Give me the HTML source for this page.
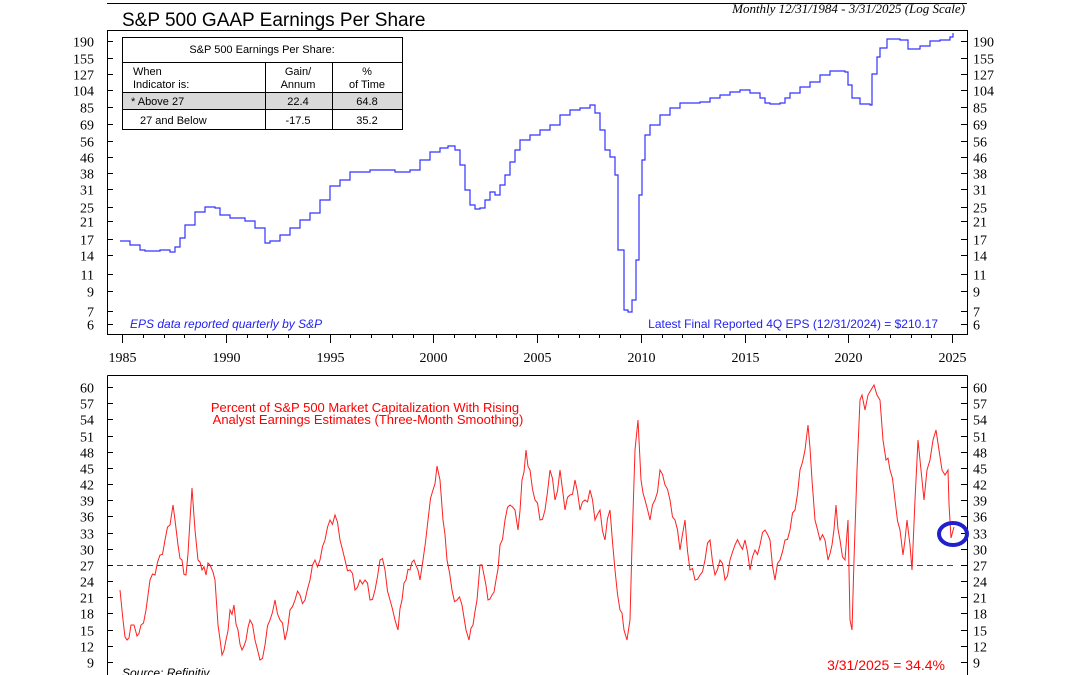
<!DOCTYPE html>
<html><head><meta charset="utf-8"><style>
html,body{margin:0;padding:0;background:#fff;}
svg{display:block;}
.ax{font-family:"Liberation Serif",serif;font-size:14px;fill:#000;}
.s{font-family:"Liberation Sans",sans-serif;}
</style></head><body>
<svg id="c" width="1080" height="675" xmlns="http://www.w3.org/2000/svg">
<rect width="1080" height="675" fill="#fff"/>
<line x1="107" y1="3.5" x2="967" y2="3.5" stroke="#000" stroke-width="1"/>
<rect x="107.5" y="30.5" width="860" height="304" fill="none" stroke="#000"/>
<line x1="107.5" y1="375.5" x2="967.5" y2="375.5" stroke="#000"/>
<line x1="107.5" y1="375.5" x2="107.5" y2="675" stroke="#000"/>
<line x1="967.5" y1="375.5" x2="967.5" y2="675" stroke="#000"/>
<text x="122" y="26" class="s" font-size="19">S&amp;P 500 GAAP Earnings Per Share</text>
<text x="965" y="13" text-anchor="end" font-family="Liberation Serif,serif" font-style="italic" font-size="13">Monthly 12/31/1984 - 3/31/2025 (Log Scale)</text>
<g class="s" font-size="11">
<rect x="122.5" y="37.5" width="280" height="92" fill="#fff" stroke="#000"/>
<rect x="123" y="92" width="279" height="17" fill="#d9d9d9"/>
<line x1="122" y1="62.5" x2="402" y2="62.5" stroke="#000"/>
<line x1="122" y1="92.5" x2="402" y2="92.5" stroke="#000"/>
<line x1="122" y1="109.5" x2="402" y2="109.5" stroke="#000"/>
<line x1="265.5" y1="62" x2="265.5" y2="129" stroke="#000"/>
<line x1="332.5" y1="62" x2="332.5" y2="129" stroke="#000"/>
<text x="262" y="53" text-anchor="middle">S&amp;P 500 Earnings Per Share:</text>
<text x="133" y="75">When</text><text x="133" y="88">Indicator is:</text>
<text x="298" y="75" text-anchor="middle">Gain/</text><text x="298" y="88" text-anchor="middle">Annum</text>
<text x="367" y="75" text-anchor="middle">%</text><text x="367" y="88" text-anchor="middle">of Time</text>
<text x="131" y="105">* Above 27</text><text x="298" y="105" text-anchor="middle">22.4</text><text x="367" y="105" text-anchor="middle">64.8</text>
<text x="140" y="124">27 and Below</text><text x="298" y="124" text-anchor="middle">-17.5</text><text x="367" y="124" text-anchor="middle">35.2</text>
</g>
<text x="130" y="328" class="s" font-size="12" font-style="italic" fill="#2222ee">EPS data reported quarterly by S&amp;P</text>
<text x="938" y="328" class="s" font-size="12" fill="#2222ee" text-anchor="end">Latest Final Reported 4Q EPS (12/31/2024) = $210.17</text>
<text x="365" y="412" class="s" font-size="13" fill="#f00" text-anchor="middle">Percent of S&amp;P 500 Market Capitalization With Rising</text>
<text x="368" y="424" class="s" font-size="13" fill="#f00" text-anchor="middle">Analyst Earnings Estimates (Three-Month Smoothing)</text>
<text x="122" y="677" class="s" font-size="12" font-style="italic">Source: Refinitiv</text>
<text x="945" y="670" class="s" font-size="14" fill="#f00" text-anchor="end">3/31/2025 = 34.4%</text>
<line x1="107" y1="565.5" x2="953" y2="565.5" stroke="#444" stroke-dasharray="6,4"/>
<g id="g"></g>
<ellipse cx="953" cy="534" rx="14" ry="11" fill="none" stroke="#2020cc" stroke-width="4"/>
</svg>
<script>
var g=document.getElementById('g'),NS='http://www.w3.org/2000/svg',h='';
function T(x,y,t,a){h+='<text class="ax" x="'+x+'" y="'+y+'" text-anchor="'+a+'">'+t+'</text>';}
function L(x1,y1,x2,y2,c){h+='<line x1="'+x1+'" y1="'+y1+'" x2="'+x2+'" y2="'+y2+'" stroke="'+(c||'#000')+'"/>';}
[190,155,127,104,85,69,56,46,38,31,25,21,17,14,11,9,7,6].forEach(function(v){
 var y=41+(Math.log(190)-Math.log(v))*81.9;y=Math.round(y)+0.5;
 L(107,y,113,y);L(961,y,967,y);T(94,y+5,v,'end');T(973,y+5,v,'start');});
for(var v=60;v>=9;v-=3){var y=Math.round(387+(60-v)*5.392)+0.5;
 L(107,y,113,y);L(961,y,967,y);T(94,y+5,v,'end');T(973,y+5,v,'start');}
for(var yr=1985;yr<=2025;yr++){var x=Math.round(122+(yr-1985)*20.75)+0.5;
 var mj=yr%5==0;L(x,334,x,mj?343:338);if(mj)T(x,362,yr,'middle');}
var eps=[120,241,130,245,140,250,145,251,160,250,170,252,175,247,180,238,185,225,195,212,205,207,215,208,220,215,230,218,245,221,255,228,265,243,270,241,280,235,290,228,300,220,310,213,320,200,330,186,340,180,350,172,360,172,370,170,380,170,395,172,410,170,420,160,430,152,440,148,448,146,455,150,460,165,465,190,470,205,475,209,480,208,485,200,490,192,495,195,500,185,505,175,510,162,515,150,520,140,530,135,540,130,550,125,560,115,570,110,580,108,590,105,595,113,600,130,605,150,610,157,615,175,618,250,621,250,624,310,628,312,632,300,636,260,639,195,642,160,645,135,650,125,660,115,670,108,680,103,690,103,700,102,710,98,720,95,730,92,740,90,750,93,760,98,765,103,770,104,780,103,785,98,790,93,800,87,810,82,820,75,830,71,840,71,845,72,848,85,852,98,860,104,870,105,872,74,877,57,880,48,887,39,900,40,908,49,920,46,930,41,940,40,950,37,953,33];
var d='M'+eps[0]+','+eps[1];
for(var i=2;i<eps.length;i+=2){d+=' H'+eps[i]+' V'+eps[i+1];}
h+='<path d="'+d+'" fill="none" stroke="#3333ff" stroke-width="1.2"/>';
var r=[120,590,123,620,127,640,131,625,134,625,137,636,141,625,146,610,150,580,155,575,160,555,165,540,170,525,173,505,175,520,178,545,182,560,186,575,190,520,192,488,195,530,198,560,202,570,206,575,210,565,213,572,215,580,218,625,222,655,226,640,230,610,234,605,238,630,242,650,246,640,250,620,255,640,260,660,265,645,270,620,275,600,280,620,285,640,290,610,295,600,300,595,305,600,310,580,315,560,320,560,325,540,330,520,335,515,340,540,345,560,350,570,355,590,360,580,365,580,370,600,375,590,380,560,385,570,390,600,395,620,398,630,402,600,406,580,410,570,414,560,418,570,420,580,423,560,428,520,433,490,437,466,440,480,443,520,447,560,452,590,457,600,462,605,466,630,469,640,473,625,477,600,480,565,484,575,488,600,492,595,496,580,500,545,505,520,510,505,515,510,518,530,522,480,526,450,530,470,535,500,540,520,545,510,550,470,555,500,560,470,565,510,570,495,575,480,580,510,585,500,590,490,595,520,600,510,605,540,610,510,615,570,620,610,624,630,627,640,630,620,632,545,635,450,638,420,641,480,645,500,650,520,655,500,660,470,665,485,670,500,675,520,680,550,685,520,690,570,695,580,700,575,705,560,710,540,715,575,720,560,725,580,730,560,735,545,740,545,745,540,750,570,755,550,760,545,765,530,770,540,775,580,780,560,785,540,790,530,795,510,800,470,805,450,808,425,812,480,815,520,820,540,825,540,828,560,832,545,836,505,840,540,845,560,848,520,850,620,852,630,854,560,857,470,860,400,862,395,865,410,868,395,871,390,874,385,877,395,880,400,883,440,886,460,890,470,895,500,900,530,903,555,905,540,907,520,910,545,912,570,915,500,918,440,921,470,924,500,927,470,930,460,933,440,936,430,939,450,942,470,945,475,948,470,949,504,951,538,954,527];
var p='M'+r[0]+','+r[1];
for(var i=2;i<r.length;i+=2){var x0=r[i-2],y0=r[i-1],x1=r[i],y1=r[i+1];
 if(x1-x0>=4){var xm=(x0+x1)/2,ym=(y0+y1)/2+Math.sin(x0*1.7)*7;p+=' L'+xm+','+ym.toFixed(1);}
 p+=' L'+x1+','+y1;}
h+='<path d="'+p+'" fill="none" stroke="#ff2020" stroke-width="1"/>';
g.innerHTML=h;
</script>
</body></html>
